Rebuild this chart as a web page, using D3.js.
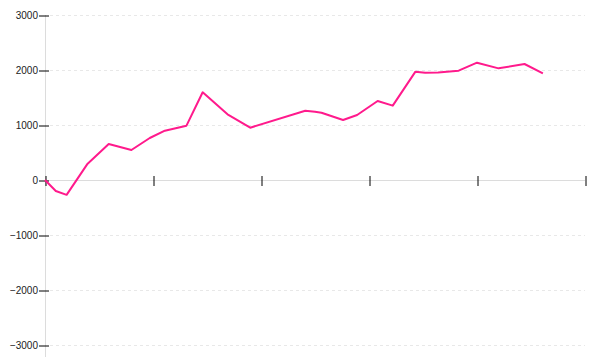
<!DOCTYPE html>
<html>
<head>
<meta charset="utf-8">
<script src="https://cdn.jsdelivr.net/npm/d3@7"></script>
<style>
  body { margin: 0; background: #fff; }
  svg text { font-family: "Liberation Sans", Arial, sans-serif; font-size: 10px; fill: #222; }
</style>
</head>
<body>
<div id="chart"></div>
<script>
// x positions in periods, y values
const periods = [0, 1, 2, 3.9, 5.9, 8.0, 9.7, 11.1, 13.1, 14.6, 16.9, 19.0, 24.1, 25.0, 25.6,
  27.6, 28.9, 30.8, 32.2, 34.3, 35.2, 36.4, 38.3, 40.0, 42.0, 44.4, 46.1];
const values = [0, -200, -270, 285, 655, 545, 764, 897, 988, 1595, 1195, 951, 1260, 1242, 1224,
  1091, 1182, 1436, 1352, 1970, 1952, 1955, 1988, 2133, 2030, 2109, 1940];
const xTicks = [0, 10, 20, 30, 40, 50];
const yTicks = [-3000, -2000, -1000, 0, 1000, 2000, 3000];

const width = 600, height = 360;

const svg = d3.select("#chart").append("svg")
  .attr("width", width)
  .attr("height", height);

const x = d3.scaleLinear().domain([0, 50]).range([45, 585]);
const y = d3.scaleLinear().domain([-3000, 3000]).range([345, 15]);

// grid lines
svg.append("g")
  .selectAll("line")
  .data(yTicks.filter(d => d !== 0))
  .enter().append("line")
  .attr("x1", 50).attr("x2", 585)
  .attr("y1", d => Math.round(y(d)) + 0.5)
  .attr("y2", d => Math.round(y(d)) + 0.5)
  .attr("stroke", "#e8e8e8")
  .attr("stroke-dasharray", "3,3");

// axis lines
svg.append("line")
  .attr("x1", 45.5).attr("x2", 45.5)
  .attr("y1", 15).attr("y2", 357)
  .attr("stroke", "#dcdcdc");
svg.append("line")
  .attr("x1", 45).attr("x2", 585)
  .attr("y1", y(0) + 0.5).attr("y2", y(0) + 0.5)
  .attr("stroke", "#dcdcdc");

// y axis ticks and labels
const yAxis = svg.append("g")
  .attr("transform", "translate(49,0.5)")
  .call(d3.axisLeft(y).tickValues(yTicks).tickSize(10).tickPadding(1).tickFormat(d3.format("d")));
yAxis.select(".domain").remove();
yAxis.selectAll(".tick line").attr("stroke", "#000");
yAxis.selectAll(".tick text").attr("font-size", null).attr("font-family", null).attr("fill", null);

// x axis ticks, no labels
const xAxis = svg.append("g")
  .attr("transform", `translate(0.5,${y(0) - 4})`)
  .call(d3.axisBottom(x).tickValues(xTicks).tickSize(10).tickFormat(""));
xAxis.select(".domain").remove();
xAxis.selectAll(".tick line").attr("stroke", "#000");

// series
const line = d3.line()
  .x((d, i) => x(periods[i]))
  .y(d => y(d));

svg.append("path")
  .datum(values)
  .attr("fill", "none")
  .attr("stroke", "#ff1a8c")
  .attr("stroke-width", 2)
  .attr("stroke-linejoin", "round")
  .attr("d", line);
</script>
</body>
</html>
